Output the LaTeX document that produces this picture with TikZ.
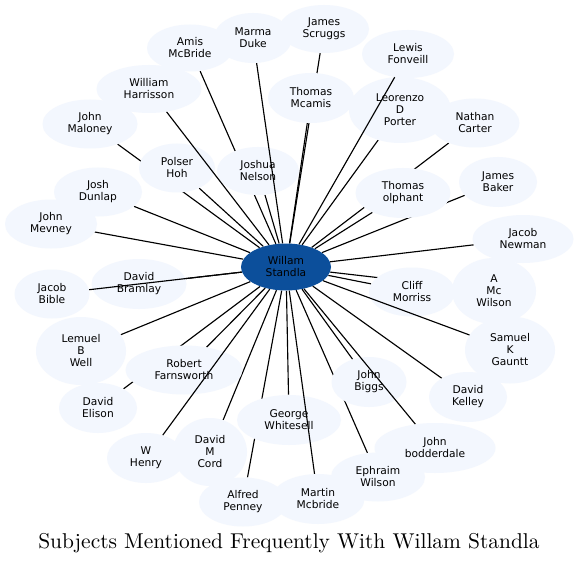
\documentclass[tikz,border=0pt]{standalone}
\usepackage{fontspec}
\usepackage{graphicx}
\newfontfamily\dejavu{DejaVu Sans}
\usetikzlibrary{shapes.geometric}
\pgfdeclarelayer{bg}
\pgfsetlayers{bg,main}
\definecolor{nodefill}{HTML}{F3F7FE}
\definecolor{hubfill}{HTML}{0C4F9B}
\tikzset{
  person/.style={ellipse, fill=nodefill, inner sep=0pt, align=center,
    font=\dejavu\fontsize{8}{9}\selectfont},
  hub/.style={person, fill=hubfill},
  sz/.style 2 args={minimum width=#1*0.75pt, minimum height=#2*0.75pt},
  link/.style={draw=black, line width=0.85pt},
}
\begin{document}
\begin{tikzpicture}[x=0.75pt,y=-0.75pt]
\useasboundingbox (0,0) rectangle (578,563);
\begin{pgfonlayer}{bg}
\fill[white] (0,0) rectangle (578,563);
\end{pgfonlayer}

\node[person, sz={90}{48}] (scruggs) at (324,29) {James\\Scruggs};
\node[person, sz={78}{50}] (marma) at (253,38) {Marma\\Duke};
\node[person, sz={86}{47}] (amis) at (190,48) {Amis\\McBride};
\node[person, sz={92}{48}] (lewis) at (408,54) {Lewis\\Fonveill};
\node[person, sz={86}{50}] (mcamis) at (311,98) {Thomas\\Mcamis};
\node[person, sz={102}{66}] (porter) at (400,110) {Leorenzo\\D\\Porter};
\node[person, sz={105}{48}] (harrisson) at (149,89) {William\\Harrisson};
\node[person, sz={95}{49}] (maloney) at (90,124) {John\\Maloney};
\node[person, sz={89}{49}] (nathan) at (475,123) {Nathan\\Carter};
\node[person, sz={76}{49}] (polser) at (177,168) {Polser\\Hoh};
\node[person, sz={82}{48}] (joshua) at (258,171) {Joshua\\Nelson};
\node[person, sz={95}{50}] (olphant) at (403,193) {Thomas\\olphant};
\node[person, sz={78}{50}] (baker) at (498,182) {James\\Baker};
\node[person, sz={88}{49}] (dunlap) at (98,192) {Josh\\Dunlap};
\node[person, sz={92}{49}] (mevney) at (51,224) {John\\Mevney};
\node[person, sz={101}{48}] (newman) at (523,239) {Jacob\\Newman};
\node[person, sz={75}{49}] (bible) at (52,294) {Jacob\\Bible};
\node[person, sz={95}{50}] (bramlay) at (139,284) {David\\Bramlay};
\node[person, sz={86}{49}] (cliff) at (412,292) {Cliff\\Morriss};
\node[person, sz={84}{66}] (amcwilson) at (494,291) {A\\Mc\\Wilson};
\node[person, sz={90}{68}] (lemuel) at (81,351) {Lemuel\\B\\Well};
\node[person, sz={90}{67}] (gauntt) at (510,350) {Samuel\\K\\Gauntt};
\node[person, sz={117}{49}] (robert) at (184,370) {Robert\\Farnsworth};
\node[person, sz={75}{50}] (biggs) at (369,382) {John\\Biggs};
\node[person, sz={78}{50}] (kelley) at (468,397) {David\\Kelley};
\node[person, sz={78}{50}] (elison) at (98,408) {David\\Elison};
\node[person, sz={104}{50}] (george) at (289,420) {George\\Whitesell};
\node[person, sz={74}{68}] (cord) at (210,452) {David\\M\\Cord};
\node[person, sz={78}{50}] (henry) at (146,458) {W\\Henry};
\node[person, sz={94}{49}] (ephraim) at (378,477) {Ephraim\\Wilson};
\node[person, sz={121}{50}] (bodderdale) at (435,448) {John\\bodderdale};
\node[person, sz={88}{49}] (alfred) at (243,502) {Alfred\\Penney};
\node[person, sz={93}{50}] (martin) at (318,499) {Martin\\Mcbride};
\node[hub, sz={90}{47}] (hub) at (286,267) {Willam\\Standla};

\begin{pgfonlayer}{bg}
\foreach \p in {scruggs,amis,mcamis,porter,maloney,nathan,polser,joshua,
  olphant,baker,dunlap,mevney,newman,bramlay,cliff,amcwilson,lemuel,
  robert,biggs,kelley,elison,george,cord,ephraim,alfred}
  \draw[link] (hub) -- (\p);
\end{pgfonlayer}

\foreach \p in {lewis,marma,harrisson,bible,henry,martin,bodderdale,gauntt}
  \draw[link] (hub) -- (\p);

\node[anchor=base] (title) at (289,548)
  {\resizebox{376pt}{!}{Subjects Mentioned Frequently With Willam Standla}};
\end{tikzpicture}
\end{document}
